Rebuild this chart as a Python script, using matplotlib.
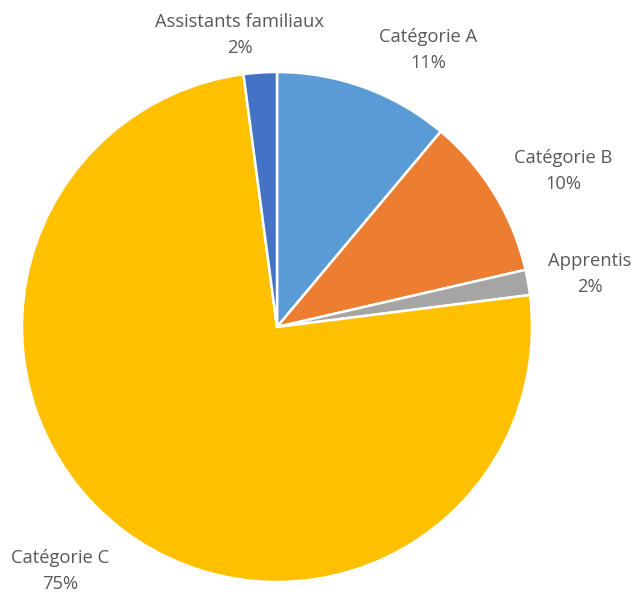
import matplotlib
matplotlib.use("Agg")
import matplotlib.pyplot as plt

plt.rcParams['font.family'] = ['Open Sans', 'DejaVu Sans']

categories = ["Catégorie A", "Catégorie B", "Apprentis", "Catégorie C", "Assistants familiaux"]
shares = [11.1, 10.3, 1.6, 74.9, 2.1]
colors = ["#5B9BD5", "#ED7D31", "#A5A5A5", "#FFC000", "#4472C4"]

# label centres in pixels (from the top-left corner of the figure)
label_px = [(428, 50), (563, 171), (590, 274), (60, 571), (240, 35)]

W, H = 634, 594
cx, cy, R = 277, 327, 255

fig = plt.figure(figsize=(W / 100, H / 100), dpi=100)
ax = fig.add_axes([0, 0, 1, 1])

ax.pie(shares, colors=colors, startangle=90, counterclock=False, radius=1,
       wedgeprops=dict(edgecolor="white", linewidth=1.8))

ax.set_xlim(-cx / R, (W - cx) / R)
ax.set_ylim(-(H - cy) / R, cy / R)
ax.set_aspect("auto")
ax.axis("off")

total = sum(shares)
for name, val, (px, py) in zip(categories, shares, label_px):
    x = (px - cx) / R
    y = (cy - py) / R
    ax.text(x, y, "%s\n%.0f%%" % (name, val / total * 100), ha="center", va="center",
            fontsize=13.2, color="#595959", linespacing=1.6)

fig.savefig("out.png", dpi=100)
